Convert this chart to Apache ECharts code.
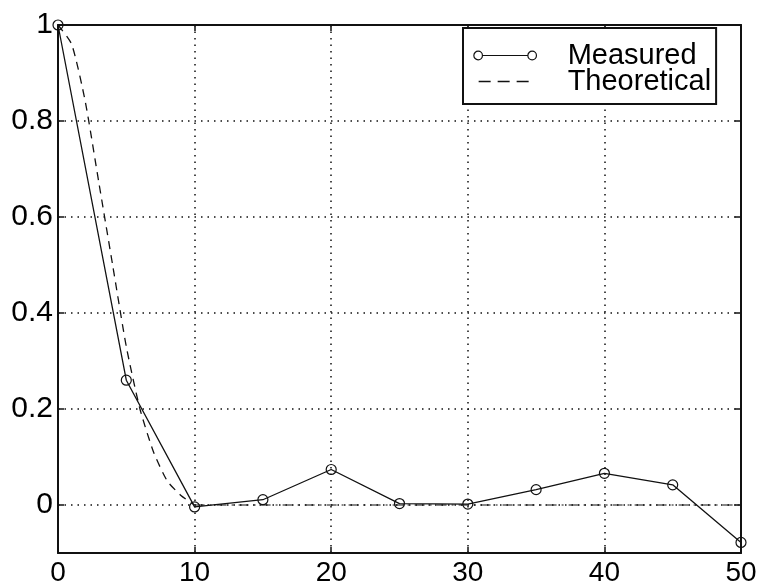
<!DOCTYPE html>
<html>
<head>
<meta charset="utf-8">
<script src="https://cdn.jsdelivr.net/npm/echarts@6/dist/echarts.min.js"></script>
<style>
  html, body { margin: 0; padding: 0; background: #fff; }
  #chart { width: 761px; height: 588px; }
</style>
</head>
<body>
<div id="chart"></div>
<script>
// Measured correlation, sampled every 5 lags
const lags = [0, 5, 10, 15, 20, 25, 30, 35, 40, 45, 50];
const measured = [1, 0.26, -0.004, 0.011, 0.074, 0.003, 0.002, 0.032, 0.066, 0.042, -0.078];

// Theoretical correlation over the first 10 lags
const theoryLags = [0, 1, 2, 3, 4, 5, 6, 7, 8, 9, 10];
const theoretical = [1, 0.96, 0.84, 0.67, 0.5, 0.33, 0.2, 0.11, 0.05, 0.02, 0];

// Theoretical level beyond lag 10
const tailLags = [10, 50];
const tailLevel = [0, 0];

const ink = '#111';
const fontFamily = '"Liberation Sans", Arial, Helvetica, sans-serif';

const pairs = (xs, ys) => xs.map((x, i) => [x, ys[i]]);

const frameAxis = {
  axisLine: { show: true, onZero: false, lineStyle: { color: ink, width: 2 } },
  axisTick: { show: true, inside: true, length: 6, lineStyle: { color: ink, width: 1.5 } }
};
const dotted = { color: ink, width: 1.5, type: [1.5, 5], cap: 'butt' };

const chart = echarts.init(document.getElementById('chart'), null, { renderer: 'canvas' });

chart.setOption({
  animation: false,
  backgroundColor: '#fff',
  grid: { left: 58, right: 20, top: 25, bottom: 35, containLabel: false, outerBoundsMode: 'none' },
  xAxis: [
    Object.assign({
      type: 'value', min: 0, max: 50, interval: 10, position: 'bottom',
      axisLabel: { color: '#000', fontSize: 28, fontFamily: fontFamily, margin: 6 },
      splitLine: { show: true, lineStyle: dotted }
    }, frameAxis),
    Object.assign({
      type: 'value', min: 0, max: 50, interval: 10, position: 'top',
      axisLabel: { show: false },
      splitLine: { show: false }
    }, frameAxis)
  ],
  yAxis: [
    Object.assign({
      type: 'value', min: -0.1, max: 1, position: 'left',
      axisLabel: { color: '#000', fontSize: 30, fontFamily: fontFamily, margin: 5, showMinLabel: false },
      splitLine: { show: true, lineStyle: dotted }
    }, frameAxis),
    Object.assign({
      type: 'value', min: -0.1, max: 1, position: 'right',
      axisLabel: { show: false },
      splitLine: { show: false }
    }, frameAxis)
  ],
  legend: {
    left: 463, top: 28, orient: 'vertical', itemGap: -3,
    padding: [13, 5, 8, 10],
    borderColor: ink, borderWidth: 2, backgroundColor: '#fff',
    itemWidth: 89, itemHeight: 10,
    selectedMode: false,
    textStyle: { fontSize: 29, lineHeight: 25, color: '#000', fontFamily: fontFamily },
    data: [
      {
        name: 'Measured',
        icon: 'path://M0,0 M89,10 M0.2,5 A4.3,4.3 0 1 1 8.8,5 A4.3,4.3 0 1 1 0.2,5 Z M8.8,5 L54.2,5 M54.2,5 A4.3,4.3 0 1 1 62.8,5 A4.3,4.3 0 1 1 54.2,5 Z',
        itemStyle: { color: 'transparent', borderColor: ink, borderWidth: 1.2 }
      },
      {
        name: 'Theoretical',
        icon: 'path://M0,0 M89,10 M5,5 L17,5 M24,5 L36,5 M43,5 L55,5',
        itemStyle: { color: 'transparent', borderColor: ink, borderWidth: 1.3 }
      }
    ]
  },
  series: [
    {
      name: 'Theoretical', type: 'line', xAxisIndex: 0, yAxisIndex: 0,
      data: pairs(theoryLags, theoretical),
      smooth: 0.2, symbol: 'none',
      lineStyle: { color: ink, width: 1.3, type: [8, 6] },
      z: 3
    },
    {
      name: 'Theoretical tail', type: 'line', xAxisIndex: 0, yAxisIndex: 0,
      data: pairs(tailLags, tailLevel),
      symbol: 'none',
      lineStyle: { color: ink, width: 1.2, type: [10, 5, 2, 5] },
      z: 3
    },
    {
      name: 'Measured', type: 'line', xAxisIndex: 0, yAxisIndex: 0,
      data: pairs(lags, measured),
      symbol: 'circle', symbolSize: 10,
      itemStyle: { color: 'transparent', borderColor: ink, borderWidth: 1.2 },
      lineStyle: { color: ink, width: 1.3 },
      z: 4
    }
  ]
});
</script>
</body>
</html>
